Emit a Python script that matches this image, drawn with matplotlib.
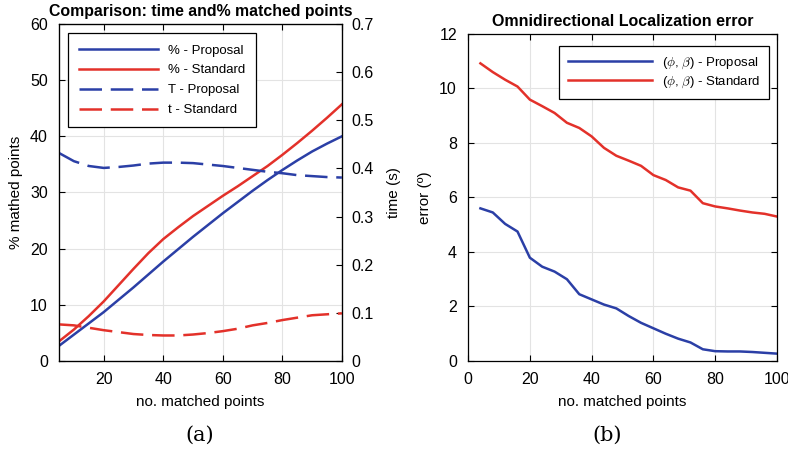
import matplotlib
matplotlib.use("Agg")
import matplotlib.pyplot as plt
import numpy as np

plt.rcParams['font.family'] = ['Liberation Sans', 'DejaVu Sans']
plt.rcParams['mathtext.fontset'] = 'cm'

BLUE = '#2b3fa6'
RED = '#e3312a'

# panel (a): % matched points and time
n_pts = [5, 10, 15, 20, 25, 30, 35, 40, 45, 50, 55, 60, 65, 70, 75, 80, 85, 90, 95, 100]
pct_proposal = [2.7, 4.7, 6.7, 8.7, 10.9, 13.1, 15.4, 17.7, 19.9, 22.1,
                24.2, 26.3, 28.3, 30.3, 32.2, 34.0, 35.7, 37.3, 38.7, 40.0]
pct_standard = [3.5, 5.6, 8.0, 10.6, 13.5, 16.4, 19.2, 21.7, 23.8, 25.8,
                27.6, 29.4, 31.1, 32.9, 34.7, 36.7, 38.8, 41.0, 43.3, 45.7]
t_proposal = [0.432, 0.415, 0.405, 0.401, 0.403, 0.406, 0.410, 0.412, 0.412, 0.411,
              0.408, 0.405, 0.401, 0.397, 0.393, 0.390, 0.386, 0.384, 0.382, 0.381]
t_standard = [0.076, 0.074, 0.069, 0.064, 0.060, 0.056, 0.054, 0.053, 0.053, 0.055,
              0.058, 0.062, 0.067, 0.074, 0.079, 0.085, 0.090, 0.095, 0.097, 0.099]

# panel (b): localization error
n_err = [4, 8, 12, 16, 20, 24, 28, 32, 36, 40, 44, 48, 52, 56, 60, 64, 68, 72, 76, 80, 84, 88, 92, 96, 100]
err_proposal = [5.6, 5.45, 5.03, 4.75, 3.79, 3.46, 3.28, 3.0, 2.45, 2.26, 2.07, 1.93, 1.65,
                1.4, 1.2, 1.0, 0.82, 0.68, 0.43, 0.36, 0.35, 0.35, 0.33, 0.3, 0.27]
err_standard = [10.92, 10.6, 10.32, 10.07, 9.59, 9.35, 9.1, 8.74, 8.55, 8.24, 7.82, 7.53, 7.35,
                7.16, 6.82, 6.64, 6.37, 6.25, 5.79, 5.67, 5.6, 5.52, 5.45, 5.4, 5.3]

fig = plt.figure(figsize=(7.88, 4.53), dpi=100)
lw = 1.8
dash = (0, (9, 3.5))
TICK = 11.5
LAB = 11


def style(ax):
    ax.grid(True, color='#e3e3e3', linewidth=0.8)
    ax.set_axisbelow(True)
    ax.tick_params(direction='in', labelsize=TICK, length=4, width=0.8, pad=8)
    for s in ax.spines.values():
        s.set_linewidth(0.9)


# --- (a)
ax1 = fig.add_axes([0.0749, 0.2031, 0.359, 0.744])
ax2 = ax1.twinx()
l1, = ax1.plot(n_pts, pct_proposal, color=BLUE, lw=lw, label='% - Proposal')
l2, = ax1.plot(n_pts, pct_standard, color=RED, lw=lw, label='% - Standard')
l3, = ax2.plot(n_pts, t_proposal, color=BLUE, lw=lw, linestyle=dash, label='T - Proposal')
l4, = ax2.plot(n_pts, t_standard, color=RED, lw=lw, linestyle=dash, label='t - Standard')
ax1.set_xlim(5, 100)
ax1.set_ylim(0, 60)
ax2.set_ylim(0, 0.7)
ax1.set_xticks([20, 40, 60, 80, 100])
ax1.set_yticks(np.arange(0, 61, 10))
ax2.set_yticks(np.arange(0, 0.71, 0.1))
ax2.set_yticklabels(['0', '0.1', '0.2', '0.3', '0.4', '0.5', '0.6', '0.7'])
style(ax1)
ax1.tick_params(top=True)
ax2.tick_params(direction='in', labelsize=TICK, length=4, width=0.8, pad=7)
ax1.set_xlabel('no. matched points', fontsize=LAB, labelpad=6)
ax1.set_ylabel('% mathed points', fontsize=LAB, labelpad=5)
ax2.set_ylabel('time (s)', fontsize=LAB, labelpad=9)
ax1.set_title('Comparison: time and% matched points', fontsize=11.4,
              fontweight='bold', pad=6)
leg = ax1.legend(handles=[l1, l2, l3, l4], loc='upper left', bbox_to_anchor=(0.032, 0.973),
                 borderaxespad=0, fontsize=9.5, handlelength=6.0, handletextpad=0.7,
                 borderpad=0.85, labelspacing=0.58, fancybox=False, edgecolor='black',
                 framealpha=1)
leg.get_frame().set_linewidth(0.9)

# --- (b)
ax3 = fig.add_axes([0.594, 0.2031, 0.392, 0.722])
ax3.plot(n_err, err_proposal, color=BLUE, lw=lw, label=r'($\phi$, $\beta$) - Proposal')
ax3.plot(n_err, err_standard, color=RED, lw=lw, label=r'($\phi$, $\beta$) - Standard')
ax3.set_xlim(0, 100)
ax3.set_ylim(0, 12)
ax3.set_xticks(np.arange(0, 101, 20))
ax3.set_yticks(np.arange(0, 13, 2))
style(ax3)
ax3.tick_params(top=True, right=True)
ax3.set_xlabel('no. matched points', fontsize=LAB, labelpad=6)
ax3.set_ylabel('error (º)', fontsize=LAB, labelpad=5)
ax3.set_title('Omnidirectional Localization error', fontsize=11.5, fontweight='bold', pad=6)
leg2 = ax3.legend(loc='upper right', bbox_to_anchor=(0.974, 0.963), borderaxespad=0,
                  fontsize=9.5, handlelength=6.4, handletextpad=0.7, borderpad=0.7,
                  labelspacing=0.3, fancybox=False, edgecolor='black', framealpha=1)
leg2.get_frame().set_linewidth(0.9)

# captions
fig.text(0.253, 0.04, '(a)', ha='center', va='center', fontsize=15, family='DejaVu Serif')
fig.text(0.771, 0.04, '(b)', ha='center', va='center', fontsize=15, family='DejaVu Serif')

fig.savefig('out.png', dpi=100)
